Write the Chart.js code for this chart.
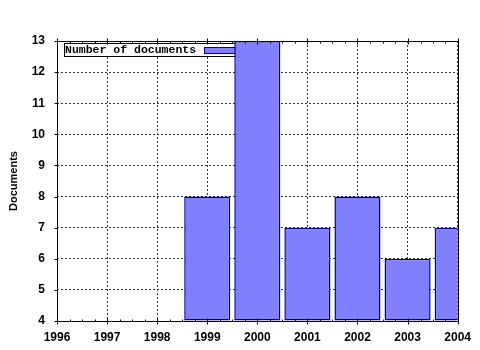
<!DOCTYPE html>
<html>
<head>
<meta charset="utf-8">
<script src="https://cdn.jsdelivr.net/npm/chart.js@4"></script>
<style>
  html, body { margin: 0; padding: 0; background: #fff; }
  canvas { display: block; }
</style>
</head>
<body>
<canvas id="chart" width="480" height="350"></canvas>
<script>
const years = ['1996', '1997', '1998', '1999', '2000', '2001', '2002', '2003', '2004'];
const documents = [null, null, null, 8, 13, 7, 8, 6, 7];
const yMin = 4;
const yMax = 13;
const seriesName = 'Number of documents';
const axisTitle = 'Documents';

const fillColor = '#8080ff';
const edgeColor = '#000090';
const tickFont = { family: 'Liberation Sans', size: 12, weight: 'bold' };

// box legend sits under the bars, ticks + frame on top
const framePlugin = {
  id: 'framePlugin',
  beforeDatasetsDraw(chart) {
    const ctx = chart.ctx;
    ctx.save();
    ctx.fillStyle = '#fff';
    ctx.fillRect(64, 43.5, 178, 13);
    ctx.strokeStyle = '#000';
    ctx.lineWidth = 1;
    ctx.strokeRect(64.5, 43.5, 178, 13);
    ctx.font = 'bold 11.5px "Liberation Mono"';
    ctx.fillStyle = '#000';
    ctx.textBaseline = 'middle';
    ctx.fillText(seriesName, 65, 50.5);
    ctx.fillStyle = fillColor;
    ctx.fillRect(204.5, 47.5, 36, 6);
    ctx.strokeStyle = edgeColor;
    ctx.strokeRect(204.5, 47.5, 36, 6);
    ctx.restore();
  },
  afterDatasetsDraw(chart) {
    const ctx = chart.ctx;
    const a = chart.chartArea;
    const x = chart.scales.x;
    const y = chart.scales.y;
    ctx.save();
    ctx.strokeStyle = '#000';
    ctx.lineWidth = 1;
    ctx.beginPath();
    const L = Math.round(a.left) + 0.5, R = Math.round(a.right) + 0.5;
    const T = Math.round(a.top) + 0.5, B = Math.round(a.bottom) + 0.5;
    ctx.rect(L, T, R - L, B - T);
    for (let i = 0; i < years.length; i++) {
      const px = Math.round(x.getPixelForValue(i)) + 0.5;
      ctx.moveTo(px, B - 3); ctx.lineTo(px, B + 3);
      ctx.moveTo(px, T - 3); ctx.lineTo(px, T + 3);
      if (i < years.length - 1) {
        const nx = x.getPixelForValue(i + 1);
        for (let q = 1; q < 4; q++) {
          const mx = Math.round(px + (nx - px) * q / 4) + 0.5;
          ctx.moveTo(mx, B); ctx.lineTo(mx, B - 2);
          ctx.moveTo(mx, T); ctx.lineTo(mx, T + 2);
        }
      }
    }
    for (let v = yMin; v <= yMax; v++) {
      const py = Math.round(y.getPixelForValue(v)) + 0.5;
      ctx.moveTo(L - 3, py); ctx.lineTo(L, py);
    }
    ctx.stroke();
    ctx.restore();
  }
};

new Chart(document.getElementById('chart'), {
  type: 'bar',
  data: {
    labels: years,
    datasets: [{
      label: seriesName,
      data: documents,
      base: yMin,
      backgroundColor: fillColor,
      borderColor: edgeColor,
      borderWidth: 1.5,
      borderSkipped: false,
      barPercentage: 0.92,
      categoryPercentage: 1
    }]
  },
  options: {
    responsive: false,
    animation: false,
    layout: { padding: { left: 0, right: 21, top: 41, bottom: 0 } },
    plugins: {
      legend: { display: false },
      tooltip: { enabled: false }
    },
    scales: {
      x: {
        offset: false,
        grid: { offset: false, color: '#333', drawTicks: false },
        border: { display: false, dash: [2, 2] },
        ticks: { color: '#000', font: tickFont, padding: 9, maxRotation: 0, autoSkip: false },
        afterFit(scale) { scale.height = 29; }
      },
      y: {
        min: yMin,
        max: yMax,
        grid: { color: '#333', drawTicks: false },
        border: { display: false, dash: [2, 2] },
        ticks: { stepSize: 1, color: '#000', font: tickFont, padding: 12 },
        title: {
          display: true,
          text: axisTitle,
          color: '#000',
          align: 'center',
          font: { family: 'Liberation Sans', size: 11, weight: 'bold' },
          padding: { top: 7, bottom: 0 }
        },
        afterFit(scale) { scale.width = 57; }
      }
    }
  },
  plugins: [framePlugin]
});
</script>
</body>
</html>
